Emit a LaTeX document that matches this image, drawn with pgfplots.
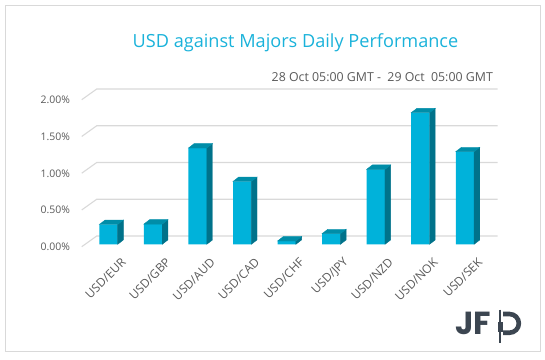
\documentclass[border=0pt]{standalone}
\usepackage{pgfplots}
\pgfplotsset{compat=1.18}
\usepackage{fontspec}
\setmainfont{Open Sans}
\newfontfamily\logofont{Poppins}
\definecolor{front}{HTML}{00B2DA}
\definecolor{side}{HTML}{00728A}
\definecolor{topc}{HTML}{008DA8}
\definecolor{gridc}{HTML}{D9D9D9}
\definecolor{txt}{HTML}{595959}
\definecolor{titlec}{HTML}{1AB2DA}
\definecolor{logo}{HTML}{3C4651}
\pgfdeclareplotmark{empty}{}
\begin{document}
\begin{tikzpicture}[x=1bp,y=1bp]
\path[use as bounding box] (0,0) rectangle (545,-359);
\draw[gridc, line width=0.9bp] (5,-5) rectangle (540,-351);
\node[titlec, font=\fontsize{18.2}{21}\selectfont] at (295.5,-43) {USD against Majors Daily Performance};
\node[txt, font=\fontsize{12.4}{14}\selectfont, anchor=east, inner sep=0pt] at (493,-77) {28 Oct 05:00 GMT -\ \ 29 Oct\ \ 05:00 GMT};
\begin{axis}[
  anchor=origin, at={(108.5bp,-244.3bp)},
  x=44.55bp, y=73.5bp,
  xmin=-0.5, xmax=8.5, ymin=0, ymax=2,
  clip=false,
  axis line style={draw=none},
  major tick length=0pt,
  /pgf/number format/assume math mode=true,
  xtick={0,...,8},
  xticklabels={USD/EUR,USD/GBP,USD/AUD,USD/CAD,USD/CHF,USD/JPY,USD/NZD,USD/NOK,USD/SEK},
  ytick={0,0.5,1,1.5,2},
  yticklabel={\pgfmathprintnumber[fixed,fixed zerofill,precision=2]{\tick}\%},
  yticklabel style={anchor=east, inner sep=0pt, xshift=-16bp, yshift=-2.7bp, text=txt, font=\fontsize{10.5}{12}\selectfont},
  xticklabel style={rotate=45, anchor=east, inner sep=0pt, xshift=-0.5bp, yshift=-22bp, text=txt, font=\fontsize{12}{14}\selectfont},
]
\pgfplotsinvokeforeach{0,0.5,1,1.5,2}{
  \draw[gridc, line width=1.1bp] ([shift={(-4.5bp,-2.4bp)}]axis cs:-0.5,#1) -- ([shift={(10.5bp,8.3bp)}]axis cs:-0.5,#1) -- ([shift={(10.5bp,8.3bp)}]axis cs:8.5,#1);
}
\addplot[ybar, bar width=18.3bp, fill=front, draw=none] coordinates {(0,0.27) (1,0.275) (2,1.31) (3,0.855) (4,0.045) (5,0.145) (6,1.02) (7,1.79) (8,1.26)};
\addplot[only marks, mark=empty, scatter, visualization depends on={rawy \as \ry},
  scatter/@pre marker code/.code={%
    \pgfmathsetmacro\hh{-\ry*73.5}%
    \pgfmathsetmacro\hb{4.4-\ry*73.5}%
    \fill[side] (9.15bp,0pt) -- (14.85bp,4.4bp) -- (14.85bp,\hb bp) -- (9.15bp,\hh bp) -- cycle;
    \fill[topc] (-9.15bp,0pt) -- (-3.45bp,4.4bp) -- (14.85bp,4.4bp) -- (9.15bp,0pt) -- cycle;
  },
  scatter/@post marker code/.code={}]
  coordinates {(0,0.27) (1,0.275) (2,1.31) (3,0.855) (4,0.045) (5,0.145) (6,1.02) (7,1.79) (8,1.26)};
\end{axis}
% logo
\node[logo, anchor=south west, inner sep=0pt, font=\logofont\bfseries\fontsize{32}{32}\selectfont] at (455,-335) {JF};
\draw[logo, line width=1.4bp] (500,-309.5) -- (500,-343);
\fill[logo] (497.5,-321.5) rectangle (502.5,-331.5);
\draw[logo, line width=4.6bp] (503,-314) -- (509.5,-314) arc[start angle=90, end angle=-90, radius=9.35] -- (503,-332.7);
\end{tikzpicture}
\end{document}
